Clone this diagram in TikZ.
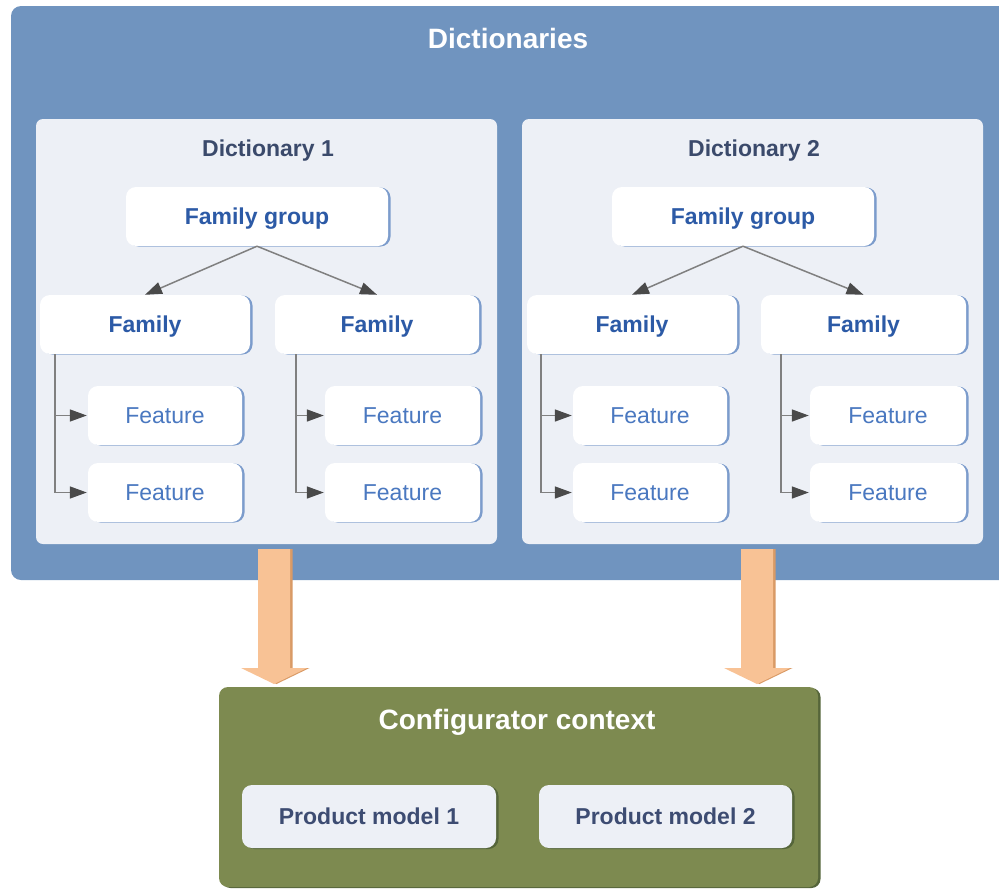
\documentclass[tikz,border=0pt]{standalone}
\usepackage{fontspec}
\setmainfont{Liberation Sans}
\usetikzlibrary{arrows.meta,shadows}
\definecolor{outerblue}{HTML}{7094BF}
\definecolor{panelc}{HTML}{EDF0F6}
\definecolor{shblue}{HTML}{7C9CCC}
\definecolor{famtext}{HTML}{2C5AA6}
\definecolor{feattext}{HTML}{4A78C0}
\definecolor{titletext}{HTML}{3B4A6B}
\definecolor{connc}{HTML}{808080}
\definecolor{tipc}{HTML}{4A4A4A}
\definecolor{orangec}{HTML}{F8C295}
\definecolor{orangesh}{HTML}{D99A66}
\definecolor{greenc}{HTML}{7D8A50}
\definecolor{greensh}{HTML}{55653A}
\definecolor{pmtext}{HTML}{3D4C72}
\tikzset{
  capmid/.style={text height=16.5pt, text depth=0pt},
  capbig/.style={text height=20pt, text depth=0pt},
  bigfont/.style={font=\fontsize{28}{32}\selectfont\bfseries, capbig},
  midfont/.style={font=\fontsize{23}{27}\selectfont},
  panelbox/.style={fill=panelc, rounded corners=7pt, inner sep=0pt},
  whitebox/.style={fill=white, rounded corners=10pt, inner sep=0pt,
     drop shadow={shadow xshift=2.5pt, shadow yshift=-0.5pt, fill=shblue, opacity=1}},
  fambox/.style={whitebox, font=\fontsize{23}{27}\selectfont\bfseries, text=famtext, capmid, minimum height=59pt},
  featbox/.style={whitebox, midfont, text=feattext, capmid, minimum height=59pt},
  pmbox/.style={fill=panelc, rounded corners=10pt, inner sep=0pt, minimum height=63pt,
     font=\fontsize{23}{27}\selectfont\bfseries, text=pmtext, capmid,
     drop shadow={shadow xshift=2.5pt, shadow yshift=-1pt, fill=greensh, opacity=1}},
  conn/.style={draw=connc, line width=1.5pt},
  tip/.style={-{Triangle[length=17pt,width=12pt,color=tipc]}},
  btext/.style={font=\fontsize{23}{27}\selectfont\bfseries, capmid},
}
\begin{document}
\begin{tikzpicture}[x=1pt,y=-1pt]
\useasboundingbox (0,0) rectangle (999,889);
\clip (0,0) rectangle (999,889);
% outer container
\node[fill=outerblue, rounded corners=10pt, minimum width=1010pt, minimum height=574pt, inner sep=0pt] (dicts) at (516,293) {};
\node[bigfont, text=white] (dictstitle) at (508,38) {Dictionaries};
% panels
\node[panelbox, minimum width=461pt, minimum height=425pt] (d1) at (266.5,331.5) {};
\node[panelbox, minimum width=461pt, minimum height=425pt] (d2) at (752.5,331.5) {};
\node[btext, text=titletext] (d1t) at (268,148) {Dictionary 1};
\node[btext, text=titletext] (d2t) at (754,148) {Dictionary 2};
% family groups
\node[fambox, minimum width=262pt] (fg1) at (257,216.5) {Family group};
\node[fambox, minimum width=262pt] (fg2) at (743,216.5) {Family group};
% families
\node[fambox, minimum width=210pt] (fa1) at (145,324.5) {Family};
\node[fambox, minimum width=204pt] (fb1) at (377,324.5) {Family};
\node[fambox, minimum width=210pt] (fa2) at (632,324.5) {Family};
\node[fambox, minimum width=205pt] (fb2) at (863.5,324.5) {Family};
% features
\node[featbox, minimum width=154pt] (fa1a) at (165,415.5) {Feature};
\node[featbox, minimum width=154pt] (fa1b) at (165,492.5) {Feature};
\node[featbox, minimum width=155pt] (fb1a) at (402.5,415.5) {Feature};
\node[featbox, minimum width=155pt] (fb1b) at (402.5,492.5) {Feature};
\node[featbox, minimum width=154pt] (fa2a) at (650,415.5) {Feature};
\node[featbox, minimum width=154pt] (fa2b) at (650,492.5) {Feature};
\node[featbox, minimum width=156pt] (fb2a) at (888,415.5) {Feature};
\node[featbox, minimum width=156pt] (fb2b) at (888,492.5) {Feature};
% connectors
\draw[conn, tip] (fg1.south) -- (fa1.north);
\draw[conn, tip] (fg1.south) -- (fb1.north);
\draw[conn, tip] (fg2.south) -- (fa2.north);
\draw[conn, tip] (fg2.south) -- (fb2.north);
\draw[conn, tip] ([xshift=15pt]fa1.south west) |- ([xshift=-1pt]fa1a.west);
\draw[conn, tip] ([xshift=15pt]fa1.south west) |- ([xshift=-1pt]fa1b.west);
\draw[conn, tip] ([xshift=21pt]fb1.south west) |- ([xshift=-1pt]fb1a.west);
\draw[conn, tip] ([xshift=21pt]fb1.south west) |- ([xshift=-1pt]fb1b.west);
\draw[conn, tip] ([xshift=14pt]fa2.south west) |- ([xshift=-1pt]fa2a.west);
\draw[conn, tip] ([xshift=14pt]fa2.south west) |- ([xshift=-1pt]fa2b.west);
\draw[conn, tip] ([xshift=20pt]fb2.south west) |- ([xshift=-1pt]fb2a.west);
\draw[conn, tip] ([xshift=20pt]fb2.south west) |- ([xshift=-1pt]fb2b.west);
% configurator context
\node[fill=greenc, rounded corners=9pt, inner sep=0pt, minimum width=599pt, minimum height=200pt,
   drop shadow={shadow xshift=2.5pt, shadow yshift=-1pt, fill=greensh, opacity=1}] (ctx) at (518.5,787) {};
\node[bigfont, text=white] (ctxt) at (517,719) {Configurator context};
\node[pmbox, minimum width=254pt] (pm1) at (369,816.5) {Product model 1};
\node[pmbox, minimum width=253pt] (pm2) at (665.5,816.5) {Product model 2};
% big orange arrows
\coordinate (ar1) at (274,549);
\coordinate (ar2) at (757,549);
\foreach \c in {ar1,ar2}{
  \fill[orangesh] ([xshift=2.5pt]\c) ++(-16,0) -- ++(32,0) -- ++(0,119) -- ++(17,0) -- ++(-33,16) -- ++(-33,-16) -- ++(17,0) -- cycle;
  \fill[orangec] (\c) ++(-16,0) -- ++(32,0) -- ++(0,119) -- ++(17,0) -- ++(-33,16) -- ++(-33,-16) -- ++(17,0) -- cycle;
}
\end{tikzpicture}
\end{document}
